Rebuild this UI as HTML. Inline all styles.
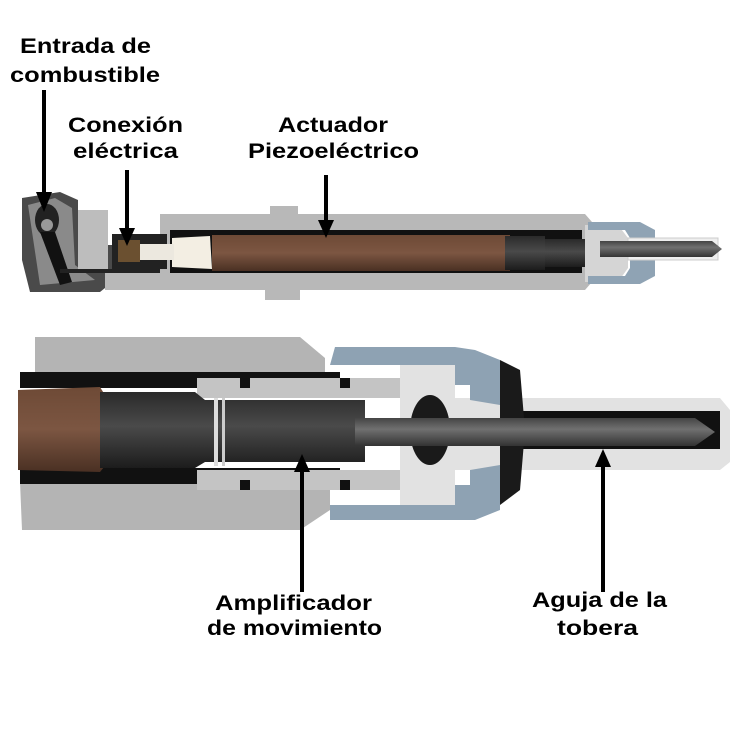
<!DOCTYPE html>
<html><head><meta charset="utf-8"><style>
html,body{margin:0;padding:0;background:#fff;}
svg{display:block}
text{font-family:"Liberation Sans",sans-serif;font-weight:bold;font-size:21px;fill:#000}
</style></head><body>
<svg width="750" height="732" viewBox="0 0 750 732" xmlns="http://www.w3.org/2000/svg">
<defs>
<linearGradient id="brn" x1="0" y1="0" x2="0" y2="1"><stop offset="0" stop-color="#6e4a36"/><stop offset=".5" stop-color="#7c5642"/><stop offset="1" stop-color="#4a3023"/></linearGradient>
<linearGradient id="dk" x1="0" y1="0" x2="0" y2="1"><stop offset="0" stop-color="#2a2a2a"/><stop offset=".45" stop-color="#4a4a4a"/><stop offset="1" stop-color="#1c1c1c"/></linearGradient>
<linearGradient id="ndl" x1="0" y1="0" x2="0" y2="1"><stop offset="0" stop-color="#444"/><stop offset=".4" stop-color="#707070"/><stop offset="1" stop-color="#333"/></linearGradient>
</defs>

<!-- TOP INJECTOR -->
<path d="M22,198 L60,192 L78,200 L78,210 L105,210 L105,245 L160,245 L160,288 L105,288 L100,292 L30,292 L22,260 Z" fill="#4a4a4a"/>
<path d="M28,205 L55,198 L72,208 L75,265 L95,280 L40,285 Z" fill="#8a8a8a"/>
<ellipse cx="47" cy="220" rx="12" ry="16" fill="#222"/>
<circle cx="47" cy="225" r="6" fill="#999"/>
<path d="M40,232 L55,232 L72,282 L60,285 Z" fill="#111"/>
<rect x="78" y="210" width="30" height="60" fill="#bdbdbd"/>
<path d="M160,214 L270,214 L270,206 L298,206 L298,214 L585,214 L592,222 L592,282 L585,290 L300,290 L300,300 L265,300 L265,290 L105,290 L105,270 L160,270 Z" fill="#b8b8b8"/>
<rect x="112" y="234" width="55" height="35" fill="#222"/>
<rect x="118" y="240" width="22" height="22" fill="#6b5030"/>
<rect x="170" y="230" width="412" height="43" fill="#111"/>
<rect x="60" y="269" width="100" height="4" fill="#222"/>
<path d="M172,238 L210,236 L212,269 L172,267 Z" fill="#f3eee3"/>
<rect x="140" y="244" width="34" height="16" fill="#ece8df"/>
<rect x="212" y="235" width="298" height="36" fill="url(#brn)"/>
<rect x="505" y="236" width="40" height="34" fill="url(#dk)"/>
<rect x="545" y="239" width="55" height="28" fill="url(#dk)"/>
<path d="M585,225 L618,225 L628,238 L628,268 L618,282 L585,282 Z" fill="#d5d5d5"/>
<path d="M588,222 L640,222 L655,230 L655,276 L640,284 L588,284 L588,276 L625,276 L630,268 L630,238 L625,230 L588,230 Z" fill="#8fa3b4"/>
<rect x="628" y="238" width="90" height="22" fill="#eee" stroke="#ccc"/>
<path d="M600,241 L712,241 L722,249 L712,257 L600,257 Z" fill="url(#ndl)"/>

<!-- BOTTOM INJECTOR -->
<path d="M35,337 L300,337 L325,358 L325,372 L35,372 Z" fill="#b4b4b4"/>
<rect x="20" y="372" width="320" height="16" fill="#111"/>
<path d="M20,482 L330,482 L330,510 L300,530 L22,530 Z" fill="#b4b4b4"/>
<rect x="20" y="468" width="320" height="16" fill="#111"/>
<path d="M197,378 L400,378 L400,398 L197,398 Z" fill="#c4c4c4"/>
<path d="M240,378 h10 v10 h-10 Z M340,378 h10 v10 h-10 Z" fill="#111"/>
<path d="M197,470 L400,470 L400,490 L197,490 Z" fill="#c4c4c4"/>
<path d="M240,480 h10 v10 h-10 Z M340,480 h10 v10 h-10 Z" fill="#111"/>
<path d="M400,365 L455,365 L455,398 L720,398 L730,410 L730,462 L720,470 L455,470 L455,505 L400,505 Z" fill="#e2e2e2"/>
<ellipse cx="430" cy="430" rx="20" ry="35" fill="#1a1a1a"/>
<rect x="505" y="411" width="215" height="38" fill="#111"/>
<path d="M335,347 L455,347 L475,350 L500,360 L500,405 L470,400 L470,385 L455,385 L455,365 L330,365 Z" fill="#8ea2b3"/>
<path d="M500,360 L520,370 L525,430 L520,490 L500,505 L500,480 Z" fill="#1a1a1a"/>
<path d="M330,505 L455,505 L455,485 L470,485 L470,470 L500,465 L500,510 L475,520 L330,520 Z" fill="#8ea2b3"/>
<path d="M18,390 L100,387 L108,400 L108,462 L100,472 L18,470 Z" fill="url(#brn)"/>
<path d="M100,392 L195,392 L205,400 L365,400 L365,462 L205,462 L195,468 L100,468 Z" fill="url(#dk)"/>
<rect x="214" y="398" width="4" height="68" fill="#ddd"/>
<rect x="222" y="398" width="3" height="68" fill="#ccc"/>
<path d="M355,418 L695,418 L715,432 L695,446 L355,446 Z" fill="url(#ndl)"/>

<!-- ARROWS -->
<g stroke="#000" stroke-width="4" fill="none">
<line x1="44" y1="90" x2="44" y2="198"/>
<line x1="127" y1="170" x2="127" y2="232"/>
<line x1="326" y1="175" x2="326" y2="225"/>
<line x1="302" y1="592" x2="302" y2="467"/>
<line x1="603" y1="592" x2="603" y2="462"/>
</g>
<g fill="#000">
<path d="M36,192 L52,192 L44,212 Z"/>
<path d="M119,228 L135,228 L127,246 Z"/>
<path d="M318,220 L334,220 L326,238 Z"/>
<path d="M294,472 L310,472 L302,454 Z"/>
<path d="M595,467 L611,467 L603,449 Z"/>
</g>

<!-- LABELS -->
<text x="20" y="53" textLength="131" lengthAdjust="spacingAndGlyphs">Entrada de</text>
<text x="10" y="82" textLength="150" lengthAdjust="spacingAndGlyphs">combustible</text>
<text x="68" y="132" textLength="115" lengthAdjust="spacingAndGlyphs">Conexión</text>
<text x="73" y="158" textLength="105" lengthAdjust="spacingAndGlyphs">eléctrica</text>
<text x="278" y="132" textLength="110" lengthAdjust="spacingAndGlyphs">Actuador</text>
<text x="248" y="158" textLength="171" lengthAdjust="spacingAndGlyphs">Piezoeléctrico</text>
<text x="215" y="610" textLength="157" lengthAdjust="spacingAndGlyphs">Amplificador</text>
<text x="207" y="635" textLength="175" lengthAdjust="spacingAndGlyphs">de movimiento</text>
<text x="532" y="607" textLength="135" lengthAdjust="spacingAndGlyphs">Aguja de la</text>
<text x="557" y="635" textLength="81" lengthAdjust="spacingAndGlyphs">tobera</text>
</svg>
</body></html>
